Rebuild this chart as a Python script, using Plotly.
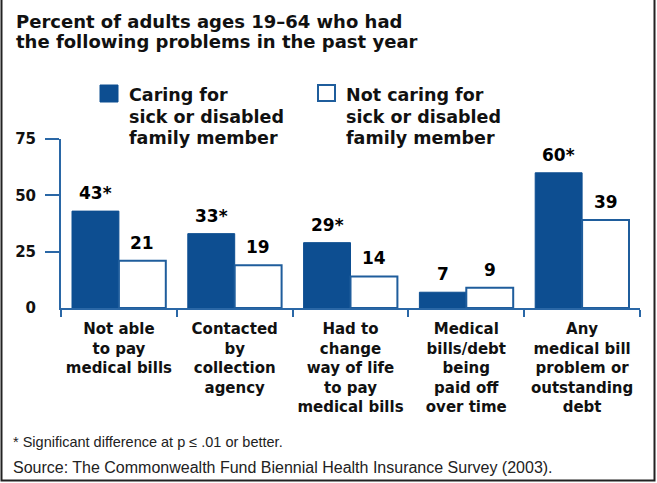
import plotly.graph_objects as go

# ---------------- data ----------------
categories = [
    "Not able to pay medical bills",
    "Contacted by collection agency",
    "Had to change way of life to pay medical bills",
    "Medical bills/debt being paid off over time",
    "Any medical bill problem or outstanding debt",
]
tick_labels = [
    "Not able<br>to pay<br>medical bills",
    "Contacted<br>by<br>collection<br>agency",
    "Had to<br>change<br>way of life<br>to pay<br>medical bills",
    "Medical<br>bills/debt<br>being<br>paid off<br>over time",
    "Any<br>medical bill<br>problem or<br>outstanding<br>debt",
]
caring = [43, 33, 29, 7, 60]
not_caring = [21, 19, 14, 9, 39]
caring_labels = ["43*", "33*", "29*", "7", "60*"]
not_caring_labels = ["21", "19", "14", "9", "39"]
series_names = [
    "Caring for<br>sick or disabled<br>family member",
    "Not caring for<br>sick or disabled<br>family member",
]
y_ticks = [0, 25, 50, 75]
title_lines = ["Percent of adults ages 19–64 who had", "the following problems in the past year"]
footnote_text = "* Significant difference at p ≤ .01 or better."
source_text = "Source: The Commonwealth Fund Biennial Health Insurance Survey (2003)."

# ---------------- style ----------------
W, H = 657, 483
ML, MR, MT, MB = 61, 17, 139, 175
PW, PH = W - ML - MR, H - MT - MB
DARK = "#0d4e91"
OUTLINE = "#1f5d9c"
AXIS = "#2a67a6"
BOLD = "DejaVu Sans"


def px(x):
    return (x - ML) / PW


def py(y):
    return (H - MB - y) / PH


fig = go.Figure()
fig.add_bar(x=categories, y=caring, name=series_names[0],
            marker=dict(color=DARK, line=dict(color=DARK, width=1)),
            showlegend=False)
fig.add_bar(x=categories, y=not_caring, name=series_names[1],
            marker=dict(color="white", line=dict(color=OUTLINE, width=2)),
            showlegend=False)

half = 0.405 / 2 * PW / len(categories)
annotations = []
for c, v, t in zip(categories, caring, caring_labels):
    annotations.append(dict(x=c, y=v, text=t, xref="x", yref="y", showarrow=False,
                            xshift=-half, yshift=18, yanchor="middle",
                            font=dict(family=BOLD, size=17, color="black", weight="bold")))
for c, v, t in zip(categories, not_caring, not_caring_labels):
    annotations.append(dict(x=c, y=v, text=t, xref="x", yref="y", showarrow=False,
                            xshift=half, yshift=18, yanchor="middle",
                            font=dict(family=BOLD, size=17, color="black", weight="bold")))

# title (one annotation per line for exact line spacing)
for line, cy in zip(title_lines, [21.7, 41.7]):
    annotations.append(dict(x=px(14), y=py(cy), xref="paper", yref="paper", text=line,
                            showarrow=False, xanchor="left", yanchor="middle", align="left",
                            font=dict(family=BOLD, size=18, color="#111", weight="bold")))
# legend texts
for lx, name in zip([127, 343.5], series_names):
    for line, cy in zip(name.split("<br>"), [95, 116.7, 138.3]):
        annotations.append(dict(x=px(lx), y=py(cy), xref="paper", yref="paper", text=line,
                                showarrow=False, xanchor="left", yanchor="middle", align="left",
                                font=dict(family=BOLD, size=17.5, color="#111", weight="bold")))
# footnotes
annotations.append(dict(x=px(11), y=py(442), xref="paper", yref="paper", text=footnote_text,
                        showarrow=False, xanchor="left", yanchor="middle", align="left",
                        font=dict(family="Liberation Sans", size=14.5, color="#222")))
annotations.append(dict(x=px(11), y=py(467), xref="paper", yref="paper", text=source_text,
                        showarrow=False, xanchor="left", yanchor="middle", align="left",
                        font=dict(family="Liberation Sans", size=16, color="#222")))

shapes = [
    # legend swatches
    dict(type="rect", xref="paper", yref="paper", x0=px(100), x1=px(118), y0=py(102), y1=py(85),
         fillcolor=DARK, line=dict(color=DARK, width=1)),
    dict(type="rect", xref="paper", yref="paper", x0=px(318), x1=px(335), y0=py(101), y1=py(85),
         fillcolor="white", line=dict(color=OUTLINE, width=2)),
    # outer frame
    dict(type="rect", xref="paper", yref="paper", x0=px(1.5), x1=px(654.5), y0=py(480.5), y1=py(-10),
         line=dict(color="#222", width=2)),
]

fig.update_layout(
    width=W, height=H,
    margin=dict(l=ML, r=MR, t=MT, b=MB, pad=0, autoexpand=False),
    paper_bgcolor="white", plot_bgcolor="white",
    barmode="group", bargap=0.19, bargroupgap=0,
    annotations=annotations, shapes=shapes,
    showlegend=False,
)
fig.update_xaxes(
    tickvals=categories, ticktext=tick_labels, tickangle=0, automargin=False,
    showline=True, linecolor=AXIS, linewidth=2,
    ticks="outside", tickson="boundaries", ticklen=7, tickwidth=2, tickcolor=AXIS,
    ticklabelstandoff=6,
    tickfont=dict(family=BOLD, size=15, color="#111", weight="bold"),
    showgrid=False, zeroline=False, fixedrange=True,
)
fig.update_yaxes(
    range=[0, 75], tickvals=y_ticks, ticktext=[str(v) for v in y_ticks], automargin=False,
    showline=True, linecolor=AXIS, linewidth=2,
    ticks="", ticklabelstandoff=20,
    minor=dict(tickvals=[25, 50, 75], ticks="outside", ticklen=14, tickwidth=2, tickcolor=AXIS),
    tickfont=dict(family=BOLD, size=15, color="#111", weight="bold"),
    showgrid=False, zeroline=False, fixedrange=True,
)

fig.write_html(
    "out.html",
    config={"displayModeBar": False},
    post_script="document.body.style.margin='0';document.body.style.overflow='hidden';",
)
